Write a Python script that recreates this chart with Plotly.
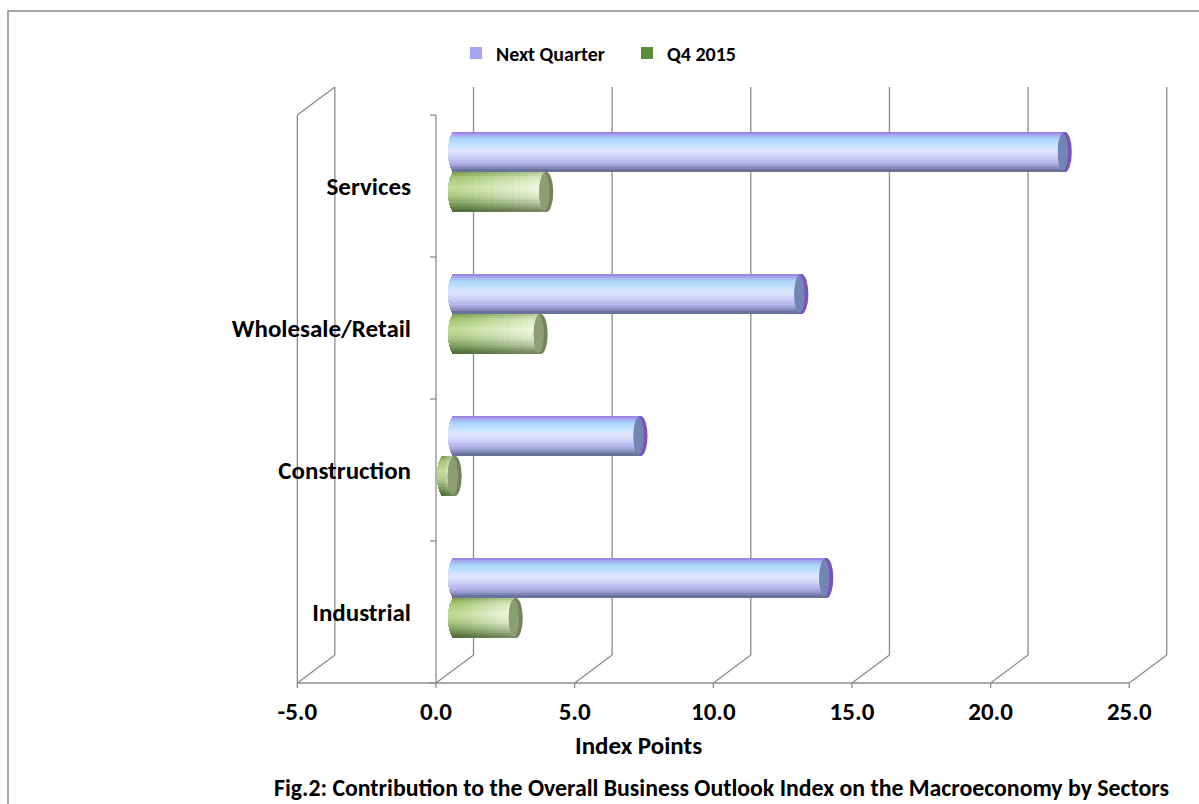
import numpy as np
import plotly.graph_objects as go

# ---- data -------------------------------------------------------------
categories = ["Industrial", "Construction", "Wholesale/Retail", "Services"]
next_quarter = [13.4, 6.7, 12.5, 22.0]
q4_2015 = [2.2, -0.4, 3.1, 3.3]
series_names = ["Next Quarter", "Q4 2015"]
x_ticks = [-5, 0, 5, 10, 15, 20, 25]
x_tick_labels = ["-5.0", "0.0", "5.0", "10.0", "15.0", "20.0", "25.0"]

# ---- page / projection geometry (pixels) -----------------------------
W, H = 1199, 804
PX_PER_UNIT = 27.73      # horizontal pixels per index point
ZERO_PX = 436            # pixel column of 0.0 on the front floor edge
FLOOR_PX = 683           # pixel row of the front floor edge
SLOT_PX = 142            # height of one category slot
DEPTH_DX_PX, DEPTH_DY_PX = 37.5, 28.0   # front -> back wall offset

DX = DEPTH_DX_PX / PX_PER_UNIT
DY = DEPTH_DY_PX / SLOT_PX
WALL_H = 4.0

x_range = [-ZERO_PX / PX_PER_UNIT, (W - ZERO_PX) / PX_PER_UNIT]
y_range = [(FLOOR_PX - H) / SLOT_PX, FLOOR_PX / SLOT_PX]

BAR_H = 40 / SLOT_PX          # thickness of one cylinder
CAP = 7 / PX_PER_UNIT         # half width of the end ellipse
N_STRIPES = 18

FONT = "Carlito, Lato, 'Open Sans', sans-serif"
GRID = "#8c8c8c"


def hex2rgb(h):
    h = h.lstrip("#")
    return np.array([int(h[i:i + 2], 16) for i in (0, 2, 4)], float)


def ramp(stops, t):
    ts = [s[0] for s in stops]
    cols = [hex2rgb(s[1]) for s in stops]
    for i in range(len(ts) - 1):
        if ts[i] <= t <= ts[i + 1]:
            f = (t - ts[i]) / (ts[i + 1] - ts[i])
            return cols[i] * (1 - f) + cols[i + 1] * f
    return cols[-1]


def css(c):
    return "rgb(%d,%d,%d)" % tuple(np.clip(np.round(c), 0, 255))


blue_stops = [(0.0, "#9577de"), (0.08, "#a7a6f0"), (0.18, "#a6d2fa"),
              (0.32, "#c3e2fd"), (0.48, "#dde5fc"), (0.64, "#ccd0f8"),
              (0.78, "#b3b2ea"), (0.90, "#8a90c0"), (1.0, "#5b678c")]
green_left = [(0.0, "#7f9e4e"), (0.15, "#a6c673"), (0.40, "#c6dd9c"),
              (0.65, "#a6c281"), (0.85, "#719352"), (1.0, "#4d6934")]
green_right = [(0.0, "#b2c396"), (0.15, "#dcebc3"), (0.40, "#f2fae6"),
               (0.65, "#dde7ca"), (0.85, "#a6b48e"), (1.0, "#748260")]

series = [
    dict(values=next_quarter, name=series_names[0], side=+1,
         left=blue_stops, right=blue_stops, segs=1,
         rim="#7a52c4", cap_fill="#7385b3", legend="#a4a6f2"),
    dict(values=q4_2015, name=series_names[1], side=-1,
         left=green_left, right=green_right, segs=14,
         rim="#72855a", cap_fill="#8c9e74", legend="#5a8c3a"),
]

positions = np.arange(len(categories)) + 0.5
fig = go.Figure()
shapes = []

# ---- 3-D frame: left wall, floor edges, back-wall gridlines -----------
line = dict(color=GRID, width=1.3)
for v in x_ticks:
    shapes.append(dict(type="line", xref="x", yref="y", layer="below",
                       x0=v, y0=0, x1=v + DX, y1=DY, line=line))
    shapes.append(dict(type="line", xref="x", yref="y", layer="below",
                       x0=v + DX, y0=DY, x1=v + DX, y1=WALL_H + DY, line=line))
    shapes.append(dict(type="line", xref="x", yref="y", layer="below",
                       x0=v, y0=0, x1=v, y1=-5 / SLOT_PX, line=line))
xmin, xmax = x_ticks[0], x_ticks[-1]
shapes += [
    dict(type="line", xref="x", yref="y", layer="below",
         x0=xmin, y0=0, x1=xmax, y1=0, line=line),
    dict(type="line", xref="x", yref="y", layer="below",
         x0=xmin, y0=0, x1=xmin, y1=WALL_H, line=line),
    dict(type="line", xref="x", yref="y", layer="below",
         x0=xmin, y0=WALL_H, x1=xmin + DX, y1=WALL_H + DY, line=line),
    # category axis on the front plane
    dict(type="line", xref="x", yref="y", layer="below",
         x0=0, y0=0, x1=0, y1=WALL_H, line=line),
]
for k in range(int(WALL_H) + 1):
    shapes.append(dict(type="line", xref="x", yref="y", layer="below",
                       x0=0, y0=k, x1=-6 / PX_PER_UNIT, y1=k, line=line))

# ---- cylinders ---------------------------------------------------------
h = BAR_H / N_STRIPES
for s in series:
    vals = np.array(s["values"], float)
    lo = np.minimum(vals, 0.0)
    hi = np.maximum(vals, 0.0)
    for k in range(N_STRIPES):
        t = (k + 0.5) / N_STRIPES
        ell = np.sqrt(max(0.0, 1 - (2 * t - 1) ** 2))
        offset = (BAR_H - (k + 1) * h) if s["side"] > 0 else -(k + 1) * h
        for j in range(s["segs"]):
            f0, f1 = j / s["segs"], (j + 1) / s["segs"]
            seg_lo = lo + (hi - lo) * f0
            seg_hi = lo + (hi - lo) * f1
            if j == 0:
                seg_lo = seg_lo - CAP * ell
            mix = 0.0 if s["segs"] == 1 else j / (s["segs"] - 1)
            col = ramp(s["left"], t) * (1 - mix) + ramp(s["right"], t) * mix
            fig.add_trace(go.Bar(
                orientation="h", y=positions, x=seg_hi - seg_lo + 0.02,
                base=seg_lo, width=h * 1.2, offset=offset,
                marker=dict(color=css(col), line=dict(width=0)),
                xaxis="x2", yaxis="y2", showlegend=False, hoverinfo="skip"))
    # visible end caps: coloured rim with a shaded face
    for pos, v in zip(positions, vals):
        end = max(v, 0.0)
        y0 = pos if s["side"] > 0 else pos - BAR_H
        shapes.append(dict(type="circle", xref="x2", yref="y2", layer="above",
                           x0=end - CAP, x1=end + CAP, y0=y0, y1=y0 + BAR_H,
                           fillcolor=s["rim"], line=dict(width=0)))
        shapes.append(dict(type="circle", xref="x2", yref="y2", layer="above",
                           x0=end - CAP, x1=end + CAP * 0.45,
                           y0=y0 + BAR_H * 0.03, y1=y0 + BAR_H * 0.97,
                           fillcolor=s["cap_fill"], line=dict(width=0)))

# legend entries
for s in series:
    fig.add_trace(go.Bar(orientation="h", x=[None], y=[None], name=s["name"],
                         marker=dict(color=s["legend"], line=dict(width=0)),
                         xaxis="x2", yaxis="y2", showlegend=True))

# outer chart border
shapes.append(dict(type="rect", xref="paper", yref="paper",
                   x0=8 / W, x1=1.05, y0=-0.05, y1=1 - 11 / H,
                   line=dict(color="#8a8a8a", width=1.5)))

fig.update_layout(
    width=W, height=H, margin=dict(l=0, r=0, t=0, b=0),
    paper_bgcolor="white", plot_bgcolor="white",
    barmode="overlay", bargap=0,
    font=dict(family=FONT, color="black"),
    shapes=shapes,
    xaxis=dict(range=x_range, anchor="free", position=(H - FLOOR_PX) / H,
               tickvals=x_ticks, ticktext=x_tick_labels, ticks="",
               showgrid=False, zeroline=False, showline=False,
               tickfont=dict(family=FONT, size=25, color="black", weight="bold"),
               ticklabelstandoff=11),
    yaxis=dict(range=y_range, anchor="free", position=411 / W,
               tickvals=list(positions), ticktext=categories, ticks="",
               showgrid=False, zeroline=False, showline=False,
               tickfont=dict(family=FONT, size=25, color="black", weight="bold")),
    xaxis2=dict(range=[r - DX / 2 for r in x_range], overlaying="x",
                visible=False),
    yaxis2=dict(range=[r - DY / 2 for r in y_range], overlaying="y",
                visible=False),
    legend=dict(orientation="h", x=456 / W, xanchor="left", y=1 - 53 / H,
                yanchor="middle", font=dict(family=FONT, size=20, weight="bold"),
                entrywidth=126, bgcolor="rgba(0,0,0,0)"),
    annotations=[
        dict(text="Index Points", xref="paper", yref="paper",
             x=638 / W, y=1 - 745 / H, yanchor="middle", showarrow=False,
             font=dict(family=FONT, size=25, weight="bold")),
        dict(text="Fig.2: Contribution to the Overall Business Outlook Index "
                  "on the Macroeconomy by Sectors",
             xref="paper", yref="paper", x=272 / W, y=1 - 787 / H,
             xanchor="left", yanchor="middle", showarrow=False,
             font=dict(family=FONT, size=23.8, weight="bold")),
    ],
)

fig.write_html("out.html")
